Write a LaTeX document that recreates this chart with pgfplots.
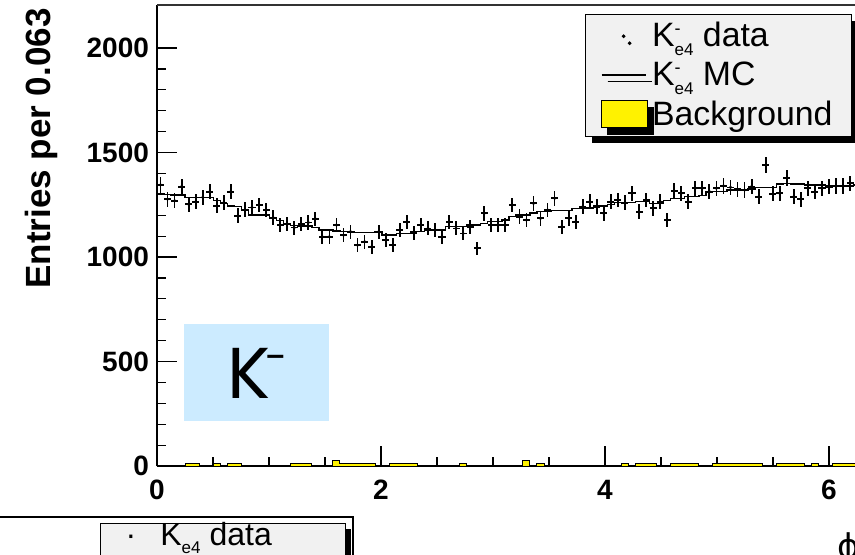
\documentclass[border=0pt]{standalone}
\usepackage{fontspec}
\setmainfont{Liberation Sans}
\newfontfamily\kfont{Poppins}
\newfontfamily\dejavu{DejaVu Sans}
\usepackage{pgfplots}
\pgfplotsset{compat=1.18}
\usepackage{pgfplotstable}
\usetikzlibrary{shadows}
\definecolor{kbox}{RGB}{204,235,255}
\definecolor{legfill}{RGB}{241,241,241}

\pgfplotstableread{
k y
0 1345
1 1277
2 1269
3 1337
4 1253
5 1265
6 1285
7 1313
8 1245
9 1261
10 1313
11 1198
12 1226
13 1237
14 1249
15 1225
16 1189
17 1153
18 1157
19 1141
20 1157
21 1165
22 1183
23 1097
24 1097
25 1153
26 1105
27 1121
28 1057
29 1073
30 1049
31 1121
32 1081
33 1057
34 1129
35 1169
36 1116
37 1153
38 1137
39 1129
40 1097
41 1169
42 1137
43 1113
44 1145
45 1042
46 1209
47 1153
48 1153
49 1153
50 1249
51 1193
52 1177
53 1257
54 1185
55 1225
56 1281
57 1145
58 1185
59 1169
60 1241
61 1265
62 1241
63 1209
64 1265
65 1273
66 1260
67 1305
68 1217
69 1273
70 1233
71 1265
72 1177
73 1317
74 1305
75 1265
76 1329
77 1329
78 1313
79 1329
80 1340
81 1333
82 1324
83 1321
84 1337
85 1289
86 1440
87 1302
88 1305
89 1377
90 1289
91 1276
92 1329
93 1313
94 1329
95 1337
96 1340
97 1340
98 1353
99 1345
}\datatab

\pgfplotstableread{
k y
0 1305
1 1300
2 1297
3 1297
4 1286
5 1286
6 1286
7 1286
8 1270
9 1257
10 1245
11 1241
12 1225
13 1201
14 1201
15 1201
16 1185
17 1175
18 1161
19 1150
20 1148
21 1148
22 1140
23 1129
24 1129
25 1125
26 1121
27 1121
28 1116
29 1116
30 1118
31 1121
32 1105
33 1105
34 1113
35 1113
36 1121
37 1121
38 1129
39 1129
40 1129
41 1145
42 1145
43 1145
44 1153
45 1153
46 1160
47 1169
48 1169
49 1177
50 1195
51 1201
52 1201
53 1210
54 1217
55 1217
56 1222
57 1222
58 1222
59 1233
60 1233
61 1235
62 1244
63 1244
64 1250
65 1260
66 1260
67 1260
68 1265
69 1265
70 1257
71 1257
72 1270
73 1281
74 1281
75 1289
76 1289
77 1295
78 1313
79 1313
80 1315
81 1320
82 1321
83 1321
84 1325
85 1333
86 1333
87 1333
88 1350
89 1353
90 1350
91 1350
92 1345
93 1345
94 1345
95 1340
96 1340
97 1340
98 1340
99 1345
100 1345
}\mctab

\pgfplotstableread{
k y
0 0
1 0
2 0
3 0
4 12
5 12
6 0
7 0
8 12
9 0
10 12
11 12
12 0
13 0
14 0
15 0
16 0
17 0
18 0
19 12
20 12
21 12
22 0
23 0
24 0
25 24
26 12
27 12
28 12
29 12
30 12
31 0
32 0
33 12
34 12
35 12
36 12
37 0
38 0
39 0
40 0
41 0
42 0
43 12
44 0
45 0
46 0
47 0
48 0
49 0
50 0
51 0
52 24
53 0
54 12
55 0
56 0
57 0
58 0
59 0
60 0
61 0
62 0
63 0
64 0
65 0
66 12
67 0
68 12
69 12
70 12
71 0
72 0
73 12
74 12
75 12
76 12
77 0
78 0
79 12
80 12
81 12
82 12
83 12
84 12
85 12
86 0
87 0
88 12
89 12
90 12
91 12
92 0
93 12
94 0
95 0
96 12
97 12
98 12
99 12
100 12
}\bgtab

\newcommand{\Kem}{K\rlap{\raisebox{0.36em}{\fontsize{9}{9}\selectfont -}}\raisebox{-0.25em}{\fontsize{8.5}{8.5}\selectfont e4}}
\newcommand{\Ke}{K\raisebox{-0.25em}{\fontsize{8.5}{8.5}\selectfont e4}}

\begin{document}
\begin{tikzpicture}[x=0.5pt,y=0.5pt]
\useasboundingbox (0,0) rectangle (855,554);
\begin{axis}[
  name=ax,
  at={(78.5pt,44pt)}, anchor=south west,
  scale only axis, width=349pt, height=230.5pt,
  xmin=0, xmax=6.2325, ymin=0, ymax=2206,
  axis lines*=left,
  axis line style={line width=0.8pt},
  xtick={0,2,4,6}, minor x tick num=3,
  ytick={0,500,1000,1500,2000}, minor y tick num=4,
  tick align=inside,
  major tick length=10pt, minor tick length=4.5pt,
  tick style={line width=0.6pt, black},
  scaled y ticks=false,
  /pgf/number format/assume math mode=true,
  /pgf/number format/1000 sep={},
  tick label style={font=\fontsize{14}{14}\selectfont\bfseries},
  xticklabel style={yshift=-3.5pt},
  yticklabel style={xshift=-0.5pt},
  reverse legend,
  legend cell align=left,
  legend style={at={(rel axis cs:0.9957,0.9805)}, anchor=north east,
    fill=legfill, draw=black, line width=0.5pt,
    font=\fontsize{16.9}{19}\selectfont,
    drop shadow={shadow xshift=3pt, shadow yshift=-3.5pt, fill=black, opacity=1},
    inner xsep=7.5pt, inner ysep=2pt, row sep=2pt,
    /tikz/every even column/.append style={column sep=1pt}},
]
\addplot[const plot, fill=yellow, draw=black, line width=0.5pt,
  legend image code/.code={\draw[fill=yellow, line width=0.5pt] (0pt,-6.5pt) rectangle (23pt,7pt);}]
  table[x expr=\thisrow{k}*0.0628319, y=y]{\bgtab} \closedcycle;
\addlegendentry{Background\hspace{4pt}}
\addplot[const plot, black, line width=0.7pt, mark=none,
  legend image code/.code={\draw[line width=0.75pt] (0pt,0.25pt) -- (22pt,0.25pt);}]
  table[x expr=\thisrow{k}*0.0628319, y=y]{\mctab};
\addlegendentry{\Kem\ MC}
\addplot[only marks, black, mark=*, mark size=0.6pt,
  error bars/.cd, x dir=both, x fixed=0.0314, y dir=both, y explicit,
  error mark=none, error bar style={line width=0.9pt, black},
  /pgfplots/legend image code/.code={\fill (11pt,0pt) circle (0.7pt);}]
  table[x expr=(\thisrow{k}+0.5)*0.0628319, y=y, y error expr=sqrt(\thisrow{y})]{\datatab};
\addlegendentry{\Kem\ data}
\end{axis}
\draw[line width=0.8pt, black!80] (ax.north west) -- (ax.north east);
% y label
\node[rotate=90, anchor=north east, inner sep=0pt, font=\fontsize{17.5}{17.5}\selectfont\bfseries] at (25,546) {Entries per 0.063};
% x label
\node[anchor=north, inner sep=0pt, font=\dejavu\fontsize{17}{17}\selectfont] at (849,22) {ϕ};
% K- box
\fill[kbox] (184,133) rectangle (329,230);
\node[anchor=base, inner sep=0pt, font=\kfont\fontsize{36}{36}\selectfont] at (249,156) {K};
\node[anchor=center, inner sep=0pt, font=\kfont\fontsize{20}{20}\selectfont] at (277,191) {-};
% fragment of a second panel at the bottom left
\draw[line width=0.8pt] (0,37) -- (353,37) -- (353,-5);
\fill[black] (340,25) rectangle (351,-5);
\filldraw[fill=legfill, draw=black, line width=0.5pt] (100,31) rectangle (345,-5);
\node[anchor=base, inner sep=0pt, font=\fontsize{16}{16}\selectfont] at (131,9) {·};
\node[anchor=base west, inner sep=0pt, font=\fontsize{16}{16}\selectfont] at (160,9) {\Ke\ data};
\end{tikzpicture}
\end{document}
